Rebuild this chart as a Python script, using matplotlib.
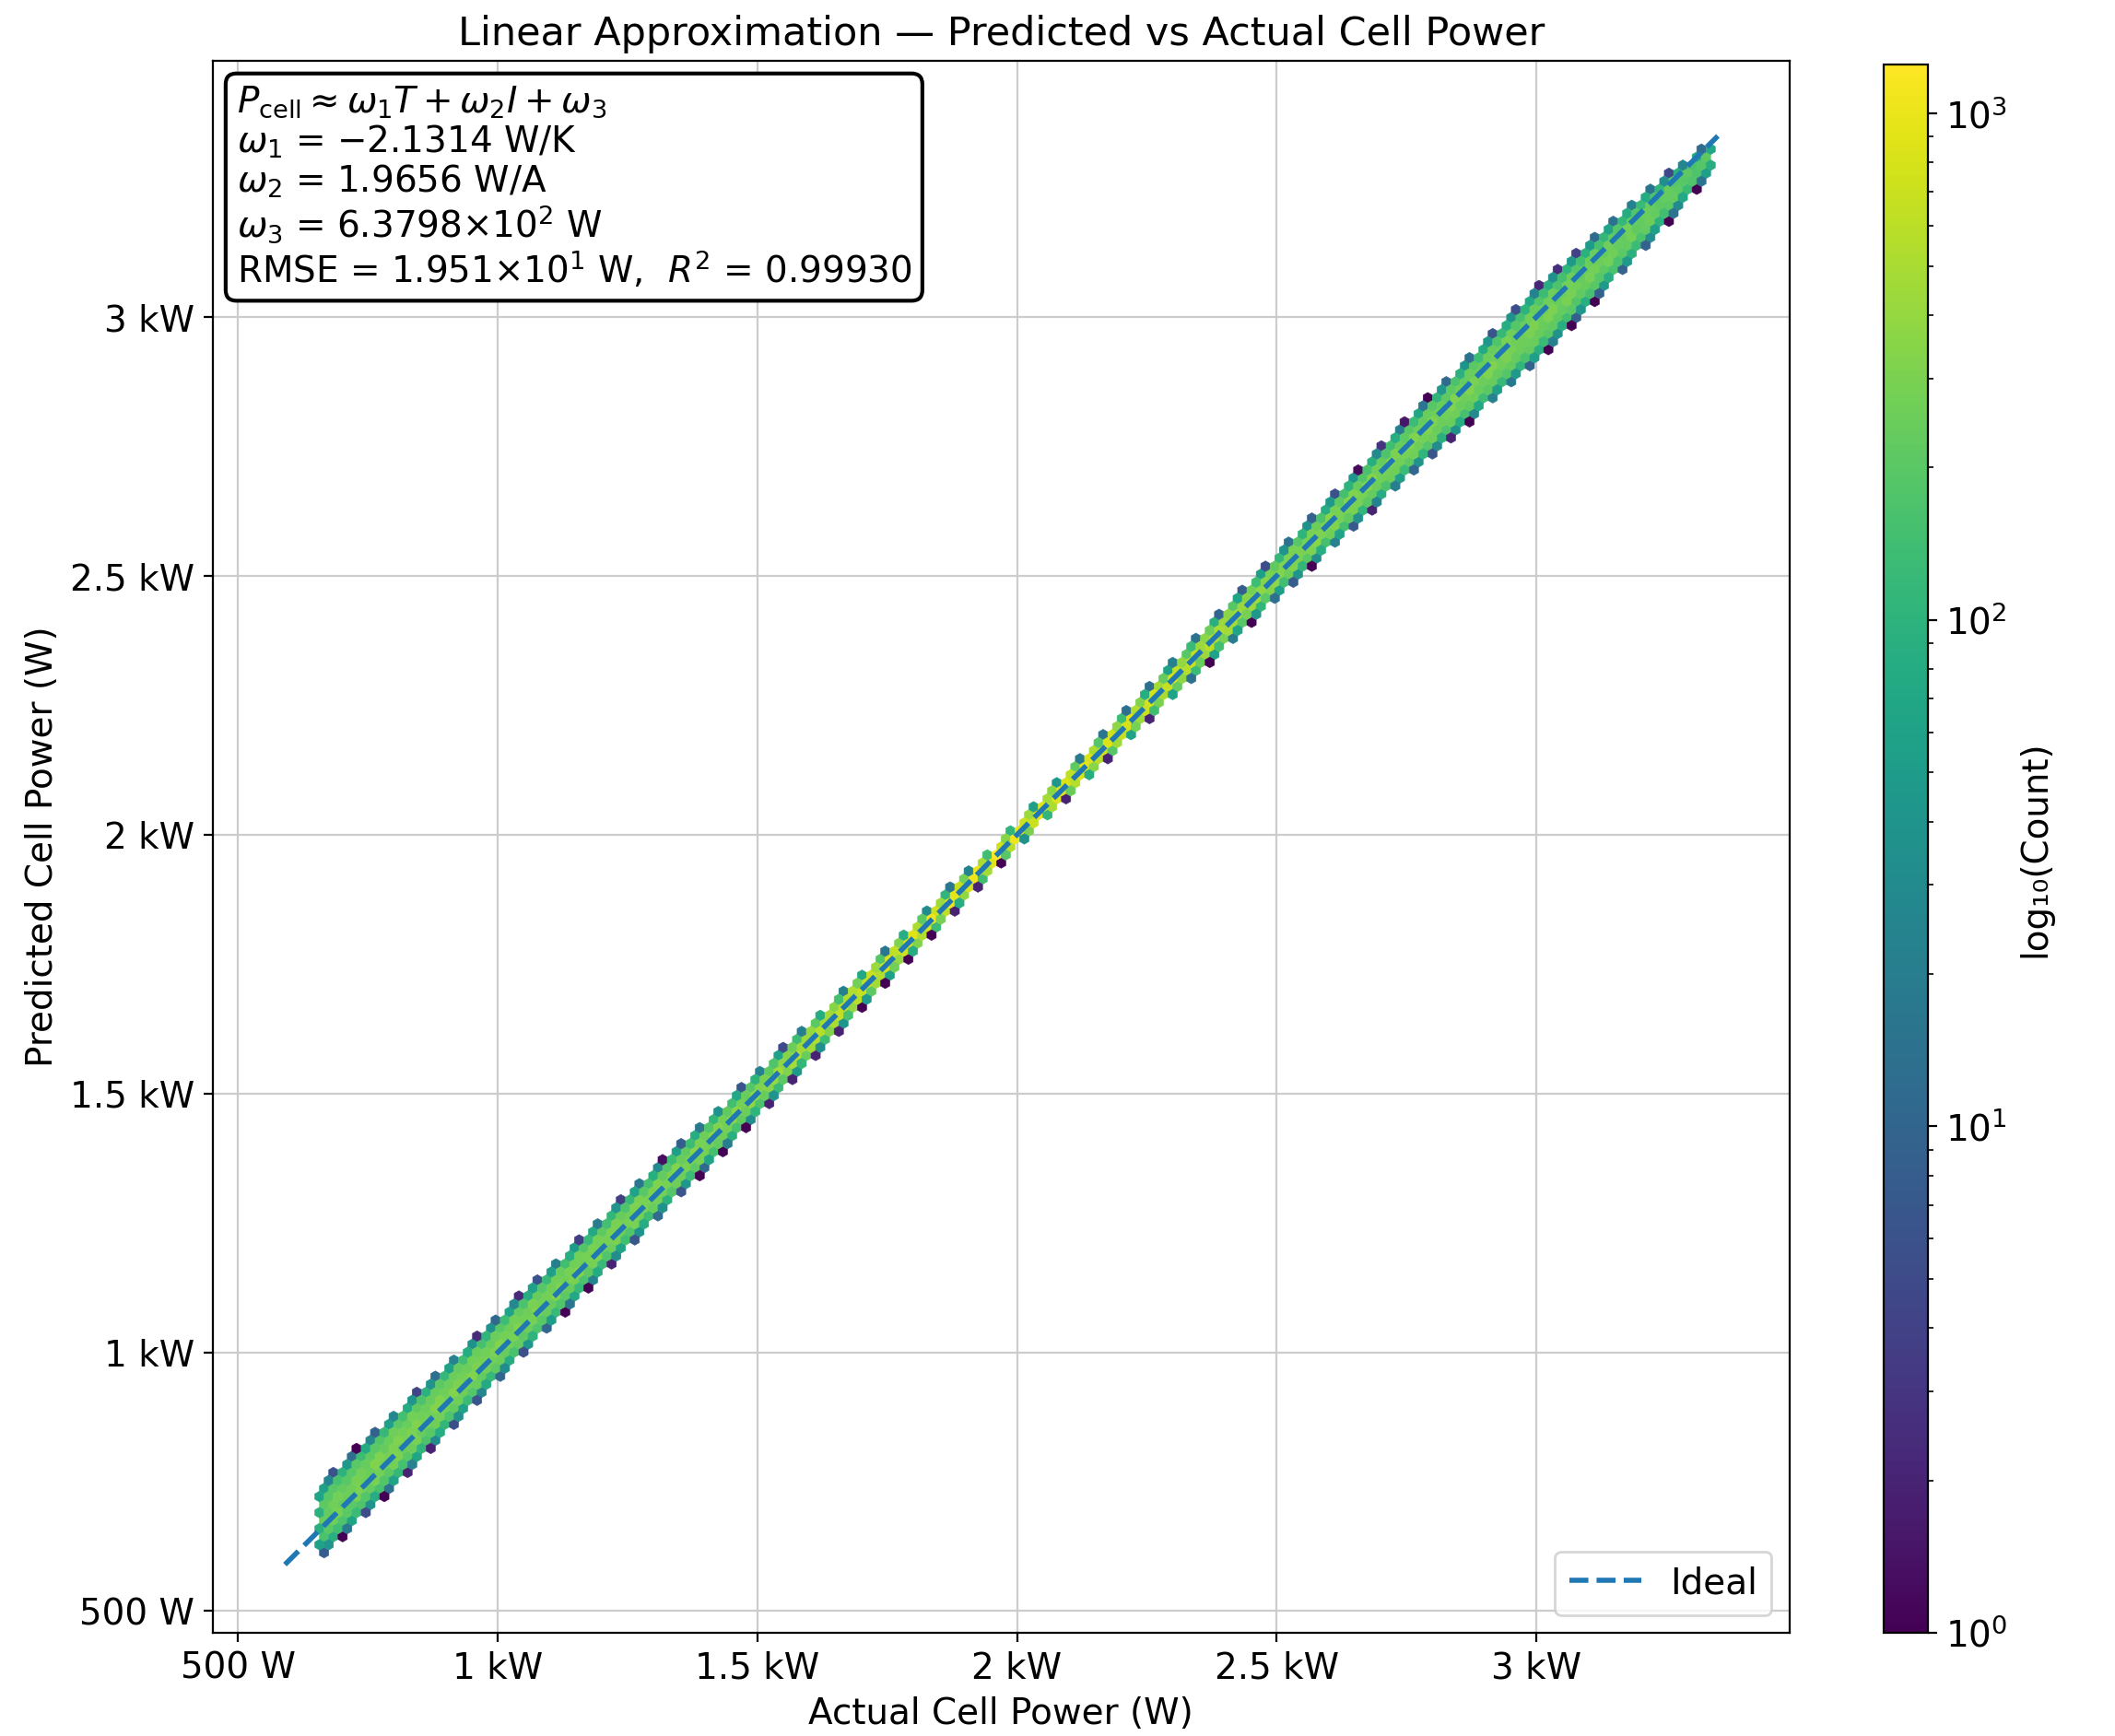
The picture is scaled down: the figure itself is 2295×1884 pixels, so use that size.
import numpy as np
import matplotlib
matplotlib.use("Agg")
import matplotlib.pyplot as plt
from matplotlib.ticker import EngFormatter

# band profile (actual power W -> half-width of scatter W, peak count per bin)
prof_x = [660, 800, 1000, 1250, 1500, 1750, 2000, 2250, 2500, 2750, 3000, 3200, 3340]
prof_halfwidth = [60, 60, 50, 42, 32, 20, 12, 20, 32, 45, 60, 45, 20]
prof_peak = [250, 300, 300, 300, 350, 900, 1500, 900, 350, 300, 280, 250, 200]
prof_bias = [15, 12, 8, 5, 0, 0, 0, 0, 0, -5, -15, -20, -25]

ideal = [590, 3350]
xlim = (451, 3488)
ylim = (458, 3495)

xs, ys, cs = [], [], []
for x in np.arange(prof_x[0], prof_x[-1], 4.0):
    hw = np.interp(x, prof_x, prof_halfwidth)
    pk = np.interp(x, prof_x, prof_peak)
    b = np.interp(x, prof_x, prof_bias)
    for o in np.arange(-hw, hw + 0.1, 3.0):
        xs.append(x); ys.append(x + b + o)
        cs.append(1 + pk * 0.04 * (1 - (o / max(hw, 1)) ** 2) ** 0.7)
xs = np.array(xs); ys = np.array(ys); cs = np.array(cs)

fig = plt.figure(figsize=(11.475, 9.42), dpi=200)
ax = fig.add_axes([0.1006, 0.0594, 0.7455, 0.9055])
cax = fig.add_axes([0.8905, 0.0594, 0.021, 0.9035])

hb = ax.hexbin(xs, ys, C=cs, reduce_C_function=np.sum, gridsize=170,
               bins='log', cmap='viridis', mincnt=1, vmin=1, vmax=1250,
               extent=(xlim[0], xlim[1], ylim[0], ylim[1]), linewidths=0.2)
ax.plot(ideal, ideal, '--', color='#1f77b4', lw=2, label='Ideal')
ax.set_xlim(xlim); ax.set_ylim(ylim)
fmt = EngFormatter(unit='W')
ax.xaxis.set_major_formatter(fmt); ax.yaxis.set_major_formatter(fmt)
ax.set_xticks([500, 1000, 1500, 2000, 2500, 3000])
ax.set_yticks([500, 1000, 1500, 2000, 2500, 3000])
ax.grid(True, color='#cccccc', lw=0.8)
ax.set_axisbelow(True)
ax.tick_params(labelsize=14)
ax.set_xlabel('Actual Cell Power (W)', fontsize=14)
ax.set_ylabel('Predicted Cell Power (W)', fontsize=14)
ax.set_title('Linear Approximation — Predicted vs Actual Cell Power', fontsize=15.5)
ax.legend(loc='lower right', fontsize=14)

txt = ("$P_{\\mathrm{cell}} \\approx \\omega_1 T + \\omega_2 I + \\omega_3$\n"
       "$\\omega_1$ = −2.1314 W/K\n"
       "$\\omega_2$ = 1.9656 W/A\n"
       "$\\omega_3$ = 6.3798$\\times$10$^{2}$ W\n"
       "RMSE = 1.951$\\times$10$^{1}$ W,  $R^2$ = 0.99930")
ax.text(0.015, 0.985, txt, transform=ax.transAxes, va='top', ha='left', fontsize=14,
        linespacing=1.1,
        bbox=dict(boxstyle='round,pad=0.3', fc='white', ec='black', lw=1.5))

cb = fig.colorbar(hb, cax=cax)
cb.set_label('log₁₀(Count)', fontsize=14)
cb.ax.tick_params(labelsize=14)

fig.savefig('out.png', dpi=200)
